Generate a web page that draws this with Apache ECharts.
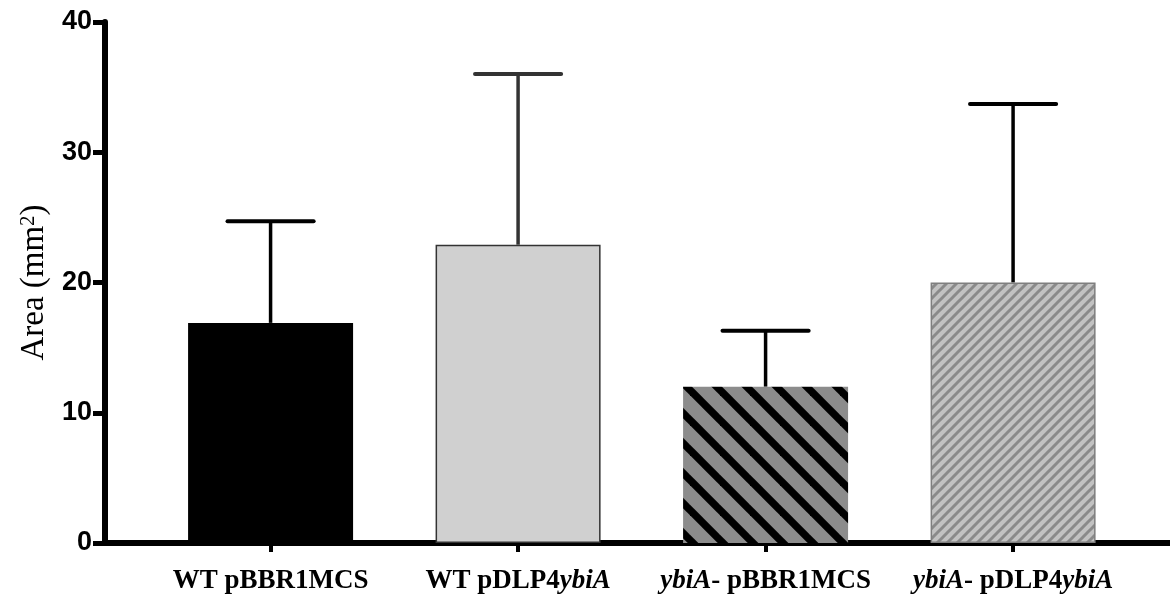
<!DOCTYPE html>
<html>
<head>
<meta charset="utf-8">
<script src="https://cdn.jsdelivr.net/npm/echarts@6/dist/echarts.min.js"></script>
<style>
  html, body { margin: 0; padding: 0; background: #fff; }
  #chart { width: 1170px; height: 598px; }
</style>
</head>
<body>
<div id="chart"></div>
<script>
// Groups (the gene name ybiA is set in italics when drawn)
const categories = ['WT pBBR1MCS', 'WT pDLP4ybiA', 'ybiA- pBBR1MCS', 'ybiA- pDLP4ybiA'];
// Mean area per group (mm^2)
const meanArea = [16.9, 22.9, 12.0, 20.0];
// Upper end of each error bar (mean + SD)
const upperArea = [24.7, 36.0, 16.3, 33.7];
// Y axis ticks
const yMin = 0, yMax = 40, yStep = 10;

// Hatched fills built on small tiles
function stripeTile(size, bg, fg, width, dir) {
  const c = document.createElement('canvas');
  c.width = size; c.height = size;
  const g = c.getContext('2d');
  g.fillStyle = bg;
  g.fillRect(0, 0, size, size);
  g.strokeStyle = fg;
  g.lineWidth = width;
  g.lineCap = 'butt';
  for (let k = -1; k <= 1; k++) {
    g.beginPath();
    if (dir === 'down') {
      g.moveTo(k * size - size, -size);
      g.lineTo(k * size + 2 * size, 2 * size);
    } else {
      g.moveTo(k * size - size, 2 * size);
      g.lineTo(k * size + 2 * size, -size);
    }
    g.stroke();
  }
  return c;
}

const barStyles = [
  { color: '#000000', borderColor: '#000000', borderWidth: 0 },
  { color: '#d0d0d0', borderColor: '#333333', borderWidth: 1.5 },
  { color: { image: stripeTile(30, '#8c8c8c', '#000000', 7.5, 'down'), repeat: 'repeat' }, borderWidth: 0 },
  { color: { image: stripeTile(10, '#c2c2c2', '#8a8a8a', 3, 'up'), repeat: 'repeat' }, borderColor: '#7f7f7f', borderWidth: 1.5 }
];
const errColors = ['#000000', '#333333', '#000000', '#000000'];

const idx = categories.map((_, i) => i);
const barData = meanArea.map((v, i) => ({ value: [i, v], itemStyle: barStyles[i] }));
const errData = meanArea.map((v, i) => [i, v, upperArea[i]]);

function richLabel(s) {
  return s.split('ybiA').join('{it|ybiA}');
}

const chart = echarts.init(document.getElementById('chart'), null, { renderer: 'canvas' });
chart.setOption({
  animation: false,
  grid: { left: 105, right: 0, top: 22, bottom: 55, containLabel: false },
  xAxis: {
    type: 'value',
    min: -0.669,
    max: 3.634,
    splitLine: { show: false },
    axisLine: { show: true, onZero: true, lineStyle: { color: '#000', width: 6 } },
    axisTick: { show: true, customValues: idx, length: 9, inside: false, lineStyle: { color: '#000', width: 4 } },
    axisLabel: {
      show: true,
      customValues: idx,
      margin: 25,
      formatter: function (v) { return richLabel(categories[Math.round(v)]); },
      fontFamily: 'Liberation Serif',
      fontWeight: 'bold',
      fontSize: 27,
      color: '#000',
      rich: {
        it: { fontFamily: 'Liberation Serif', fontWeight: 'bold', fontStyle: 'italic', fontSize: 27, color: '#000' }
      }
    }
  },
  yAxis: {
    type: 'value',
    min: yMin,
    max: yMax,
    interval: yStep,
    splitLine: { show: false },
    axisLine: { show: true, onZero: false, lineStyle: { color: '#000', width: 6 } },
    axisTick: { show: true, length: 12, lineStyle: { color: '#000', width: 5 } },
    axisLabel: {
      margin: 13,
      fontFamily: 'Liberation Sans',
      fontWeight: 'bold',
      fontSize: 27,
      color: '#000'
    },
    name: '{t|Area (mm}{sup|2}{t|)}',
    nameLocation: 'middle',
    nameGap: 52,
    nameRotate: 90,
    nameTextStyle: {
      fontFamily: 'Liberation Serif',
      fontSize: 33,
      color: '#000',
      rich: {
        t: { fontFamily: 'Liberation Serif', fontSize: 33, color: '#000' },
        sup: { fontFamily: 'Liberation Serif', fontSize: 21, color: '#000', verticalAlign: 'top', padding: [0, 0, 12, 0] }
      }
    }
  },
  series: [
    {
      type: 'custom',
      z: 1,
      data: errData,
      renderItem: function (params, api) {
        const i = api.value(0);
        const top = api.coord([i, api.value(2)]);
        const base = api.coord([i, api.value(1)]);
        const half = api.size([1, 0])[0] * 0.174;
        const col = errColors[params.dataIndex];
        return {
          type: 'group',
          children: [
            { type: 'line', shape: { x1: top[0], y1: base[1], x2: top[0], y2: top[1] }, style: { stroke: col, lineWidth: 3.5 } },
            { type: 'line', shape: { x1: top[0] - half, y1: top[1], x2: top[0] + half, y2: top[1] }, style: { stroke: col, lineWidth: 4, lineCap: 'round' } }
          ]
        };
      }
    },
    {
      type: 'bar',
      z: 2,
      barWidth: 165,
      data: barData
    }
  ]
});
</script>
</body>
</html>
